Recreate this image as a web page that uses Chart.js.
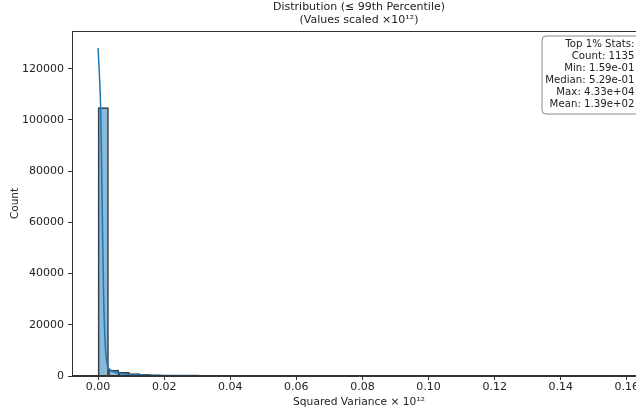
<!DOCTYPE html>
<html>
<head>
<meta charset="utf-8">
<script src="https://cdn.jsdelivr.net/npm/chart.js@4.4.1/dist/chart.umd.min.js"></script>
<style>
  html, body { margin: 0; padding: 0; background: #fff; overflow: hidden; }
  #wrap { width: 660px; height: 415px; }
</style>
</head>
<body>
<div id="wrap"><canvas id="histChart" width="660" height="415"></canvas></div>
<script>
// histogram: 50 bins starting at 0
const binStart = 0;
const binWidth = 0.00316;
const binCounts = [
  104800, 2300, 1400, 900, 620, 450, 340, 270, 220, 180,
  150, 125, 105, 90, 78, 68, 60, 53, 47, 42,
  38, 34, 31, 28, 26, 24, 22, 20, 19, 17,
  16, 15, 14, 13, 12, 11, 11, 10, 9, 9,
  8, 8, 7, 7, 7, 6, 6, 6, 5, 5
];

// kde curve
const kdeX = [0, 0.0004, 0.0008, 0.0011, 0.0014, 0.0017, 0.0021, 0.0025, 0.003, 0.0036,
  0.0042, 0.005, 0.006, 0.0075, 0.0097, 0.012, 0.016, 0.02, 0.025, 0.03,
  0.04, 0.05, 0.06, 0.08, 0.10, 0.12, 0.14, 0.158];
const kdeY = [128000, 118000, 104000, 80000, 53000, 31000, 14000, 7000, 3500, 2500,
  1900, 1500, 1200, 850, 600, 450, 300, 230, 180, 150,
  100, 75, 60, 40, 30, 20, 15, 10];

const xTicks = [0, 0.02, 0.04, 0.06, 0.08, 0.10, 0.12, 0.14, 0.16];
const yTicks = [0, 20000, 40000, 60000, 80000, 100000, 120000];

const titleLines = ['Distribution (\u2264 99th Percentile)', '(Values scaled \u00d710\u00b9\u00b2)'];
const statsLines = ['Top 1% Stats:', 'Count: 1135', 'Min: 1.59e-01', 'Median: 5.29e-01', 'Max: 4.33e+04', 'Mean: 1.39e+02'];

const FONT = '"DejaVu Sans", sans-serif';

const barPoints = binCounts.map((c, i) => ({ x: binStart + (i + 0.5) * binWidth, y: c }));
const kdePoints = kdeX.map((x, i) => ({ x: x, y: kdeY[i] }));

// frame, title and stats box, matplotlib style
const extrasPlugin = {
  id: 'extras',
  afterDraw(chart) {
    const ctx = chart.ctx;
    const a = chart.chartArea;
    ctx.save();
    ctx.strokeStyle = '#333';
    ctx.lineWidth = 1;
    ctx.strokeRect(a.left + 0.5, a.top + 0.5, a.right - a.left - 1, a.bottom - a.top - 1);

    const cx = (a.left + a.right) / 2;
    ctx.fillStyle = '#222';
    ctx.font = '11px ' + FONT;
    ctx.textAlign = 'center';
    ctx.textBaseline = 'middle';
    ctx.fillText(titleLines[0], cx, 7);
    ctx.fillText(titleLines[1], cx, 20);

    // stats box
    const bx = 542, by = 36, bw = 98, bh = 78, r = 4;
    ctx.beginPath();
    ctx.moveTo(bx + r, by);
    ctx.lineTo(bx + bw - r, by);
    ctx.quadraticCurveTo(bx + bw, by, bx + bw, by + r);
    ctx.lineTo(bx + bw, by + bh - r);
    ctx.quadraticCurveTo(bx + bw, by + bh, bx + bw - r, by + bh);
    ctx.lineTo(bx + r, by + bh);
    ctx.quadraticCurveTo(bx, by + bh, bx, by + bh - r);
    ctx.lineTo(bx, by + r);
    ctx.quadraticCurveTo(bx, by, bx + r, by);
    ctx.closePath();
    ctx.fillStyle = 'rgba(255,255,255,0.9)';
    ctx.fill();
    ctx.strokeStyle = '#888';
    ctx.stroke();

    ctx.fillStyle = '#222';
    ctx.font = '10.2px ' + FONT;
    ctx.textAlign = 'right';
    statsLines.forEach((t, i) => ctx.fillText(t, 634.5, 44.5 + i * 11.9));
    ctx.restore();
  }
};

new Chart(document.getElementById('histChart'), {
  data: {
    datasets: [
      {
        type: 'bar',
        data: barPoints,
        backgroundColor: 'rgba(31,119,180,0.52)',
        borderColor: 'rgba(20,20,20,0.85)',
        borderWidth: 1,
        barPercentage: 1,
        categoryPercentage: 1,
        order: 1
      },
      {
        type: 'line',
        data: kdePoints,
        borderColor: '#1f77b4',
        borderWidth: 1.5,
        pointRadius: 0,
        cubicInterpolationMode: 'monotone',
        fill: false,
        order: 0
      }
    ]
  },
  options: {
    responsive: false,
    animation: false,
    layout: { padding: { top: 31, right: 14, left: 0, bottom: 0 } },
    plugins: {
      legend: { display: false },
      title: { display: false },
      tooltip: { enabled: false }
    },
    scales: {
      x: {
        type: 'linear',
        offset: false,
        min: -0.00788,
        max: 0.1658,
        afterBuildTicks: (scale) => { scale.ticks = xTicks.map(v => ({ value: v })); },
        afterFit: (scale) => { scale.height = 39; },
        grid: { offset: false, drawOnChartArea: false, drawTicks: true, tickLength: 4, color: '#333' },
        border: { display: true, color: '#333' },
        ticks: {
          color: '#222',
          font: { family: FONT, size: 11 },
          padding: 1,
          maxRotation: 0,
          autoSkip: false,
          callback: (v) => Number(v).toFixed(2)
        },
        title: {
          display: true,
          text: 'Squared Variance \u00d7 10\u00b9\u00b2',
          color: '#222',
          font: { family: FONT, size: 10.7 },
          padding: { top: 0, bottom: 6 }
        }
      },
      y: {
        type: 'linear',
        min: 0,
        max: 134700,
        afterBuildTicks: (scale) => { scale.ticks = yTicks.map(v => ({ value: v })); },
        afterFit: (scale) => { scale.width = 72; },
        grid: { drawOnChartArea: false, drawTicks: true, tickLength: 4, color: '#333' },
        border: { display: true, color: '#333' },
        ticks: {
          color: '#222',
          font: { family: FONT, size: 11 },
          padding: 4,
          autoSkip: false,
          callback: (v) => String(v)
        },
        title: {
          display: true,
          text: 'Count',
          color: '#222',
          font: { family: FONT, size: 10.5 },
          padding: { top: 9, bottom: 0 }
        }
      }
    }
  },
  plugins: [extrasPlugin]
});
</script>
</body>
</html>
